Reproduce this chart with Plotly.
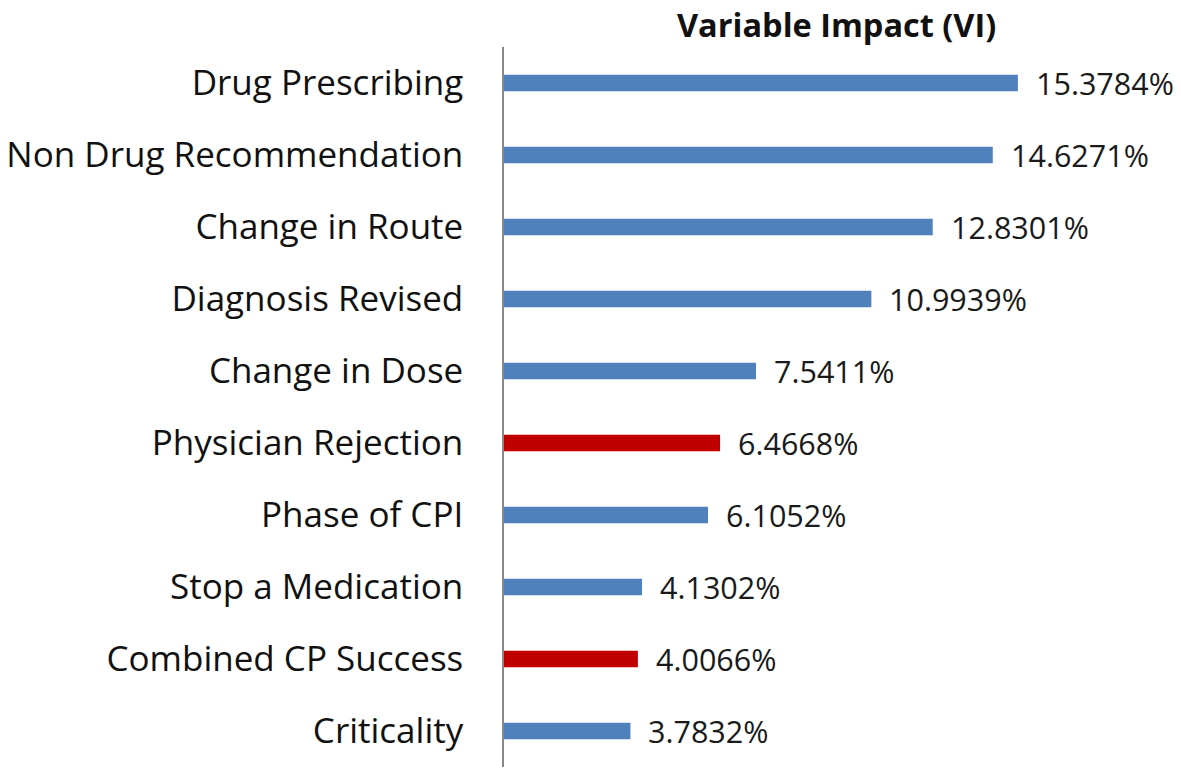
import plotly.graph_objects as go

categories = ["Drug Prescribing", "Non Drug Recommendation", "Change in Route",
              "Diagnosis Revised", "Change in Dose", "Physician Rejection",
              "Phase of CPI", "Stop a Medication", "Combined CP Success", "Criticality"]
values = [15.3784, 14.6271, 12.8301, 10.9939, 7.5411, 6.4668, 6.1052, 4.1302, 4.0066, 3.7832]
highlight = [False, False, False, False, False, True, False, False, True, False]

BLUE = "#4F81BD"
RED = "#C00000"
colors = [RED if h else BLUE for h in highlight]
FONT = "Open Sans"

fig = go.Figure(go.Bar(
    x=values, y=categories, orientation="h",
    marker=dict(color=colors, line=dict(width=0)),
    width=0.23,
))

for c, v in zip(categories, values):
    fig.add_annotation(x=v, y=c, text=f"{v:.4f}%", showarrow=False,
                       xanchor="left", xshift=16, yshift=0,
                       font=dict(family=FONT, size=30.5, color="#1a1a1a"))

fig.add_annotation(xref="paper", yref="paper", text="<b>Variable Impact (VI)</b>",
                   x=(836 - 504) / 677, y=1 + (47 - 0) / 720,
                   xanchor="center", yanchor="top", showarrow=False,
                   font=dict(family=FONT, size=32.5, color="#111"))

fig.update_layout(
    width=1181, height=771,
    margin=dict(l=504, r=0, t=47, b=4),
    plot_bgcolor="white", paper_bgcolor="white",
    showlegend=False,
    xaxis=dict(range=[0, 20.26], visible=False, fixedrange=True),
    yaxis=dict(autorange="reversed", showline=True, linecolor="#888", linewidth=1.5,
               showgrid=False, ticks="", ticklabelstandoff=32, automargin=False,
               tickfont=dict(family=FONT, size=35, color="#111")),
)

fig.write_html("out.html", config={"displayModeBar": False},
               post_script="document.body.style.margin='0';document.body.style.overflow='hidden';")
